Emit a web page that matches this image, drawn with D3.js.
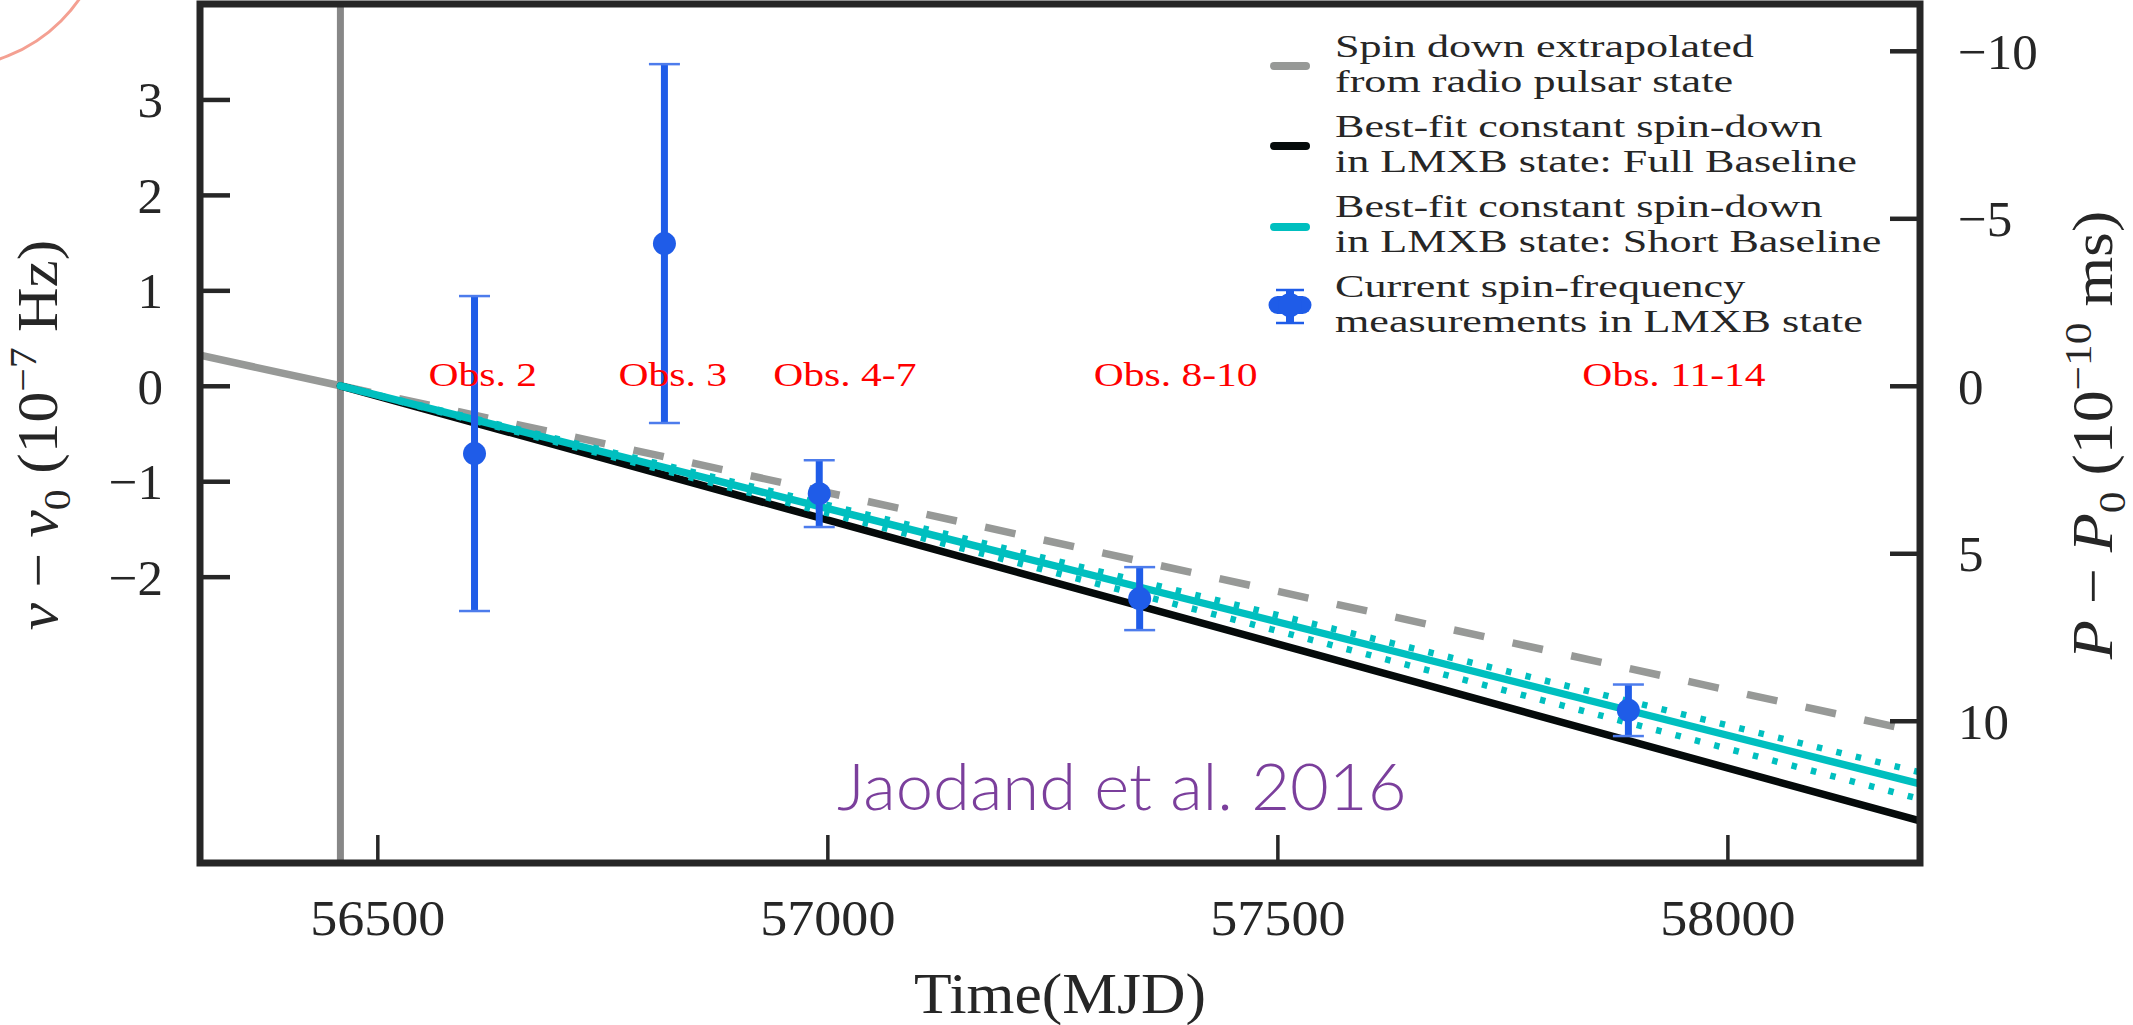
<!DOCTYPE html>
<html>
<head>
<meta charset="utf-8">
<script src="https://cdn.jsdelivr.net/npm/d3@7"></script>
<style>
  html, body { margin: 0; padding: 0; background: #ffffff; }
  svg { display: block; }
</style>
</head>
<body>
<svg id="chart" width="2133" height="1025"></svg>
<script>
// ---- data -------------------------------------------------------------
// Spin-frequency measurements in the LMXB state (nu - nu0 in 1e-7 Hz)
const obsLabels = ["Obs. 2", "Obs. 3", "Obs. 4-7", "Obs. 8-10", "Obs. 11-14"];
const obsMJD    = [56608, 56819, 56991, 57347, 57890];
const nuOffset  = [-0.71, 1.49, -1.13, -2.23, -3.40];
const nuError   = [1.65, 1.88, 0.35, 0.33, 0.27];

// Radio pulsar -> LMXB state transition
const transitionMJD = 56459;

// Spin-down tracks, [MJD, nu - nu0]
const radioPast     = [[56303, 0.32], [56459, 0]];
const radioExtrap   = [[56459, 0], [58214, -3.63]];
const fullBaseline  = [[56459, 0], [58214, -4.56]];
const shortBaseline = [[56459, 0], [58214, -4.17]];
const shortUpper    = [[56459, 0], [58214, -4.05]];
const shortLower    = [[56459, 0], [58214, -4.33]];

// Reference spin frequency (Hz), for the period axis
const nu0 = 592.42;

// Axis ticks
const xTicks = [56500, 57000, 57500, 58000];
const yTicks = [-2, -1, 0, 1, 2, 3];
const pTicks = [-10, -5, 0, 5, 10];

// Legend text
const legendText = [
  ["Spin down extrapolated", "from radio pulsar state"],
  ["Best-fit constant spin-down", "in LMXB state: Full Baseline"],
  ["Best-fit constant spin-down", "in LMXB state: Short Baseline"],
  ["Current spin-frequency", "measurements in LMXB state"]
];

// ---- layout -------------------------------------------------------------
const frame = { left: 200, right: 1920, top: 4, bottom: 863 };
const ink = "#262626";
const serif = "'Liberation Serif', 'Times New Roman', serif";
const blue = "#1f5ce8";
const cyan = "#00bfbf";
const grey = "#979997";

const svg = d3.select("#chart");

const x = d3.scaleLinear().domain([56303, 58214]).range([frame.left, frame.right]);
const y = d3.scaleLinear().domain([-5, 4]).range([frame.bottom, frame.top]);
// P - P0 in 1e-10 ms  =  -(nu - nu0) * 1e-7 / nu0^2 / 1e-13
const toPeriod = v => -v * 1e6 / (nu0 * nu0);
const yP = d3.scaleLinear().domain(y.domain().map(toPeriod)).range(y.range());

function stretch(sel, k) {
  sel.each(function () {
    const L = this.getComputedTextLength();
    this.setAttribute("textLength", L * k);
    this.setAttribute("lengthAdjust", "spacingAndGlyphs");
  });
}

// Decorative circle arc in the corner
svg.append("circle")
  .attr("cx", -50).attr("cy", -90).attr("r", 157)
  .attr("fill", "none").attr("stroke", "#f4a092").attr("stroke-width", 3);

// Clip for the plot area
svg.append("defs").append("clipPath").attr("id", "plotclip")
  .append("rect")
  .attr("x", frame.left).attr("y", frame.top)
  .attr("width", frame.right - frame.left).attr("height", frame.bottom - frame.top);

const plot = svg.append("g").attr("clip-path", "url(#plotclip)");
const line = d3.line().x(d => x(d[0])).y(d => y(d[1]));

// Transition marker
plot.append("line")
  .attr("x1", x(transitionMJD)).attr("x2", x(transitionMJD))
  .attr("y1", frame.top).attr("y2", frame.bottom)
  .attr("stroke", "#878787").attr("stroke-width", 7);

// Radio-state spin-down and its extrapolation
plot.append("path").datum(radioPast).attr("d", line)
  .attr("fill", "none").attr("stroke", grey).attr("stroke-width", 7.5);
plot.append("path").datum(radioExtrap).attr("d", line)
  .attr("fill", "none").attr("stroke", grey).attr("stroke-width", 7.5)
  .attr("stroke-dasharray", "31,29");

// LMXB best fits
plot.append("path").datum(fullBaseline).attr("d", line)
  .attr("fill", "none").attr("stroke", "#050a0a").attr("stroke-width", 7.5)
  .attr("stroke-linecap", "round");
plot.append("path").datum(shortBaseline).attr("d", line)
  .attr("fill", "none").attr("stroke", cyan).attr("stroke-width", 7.5)
  .attr("stroke-linecap", "round");
[shortUpper, shortLower].forEach(seg => {
  plot.append("path").datum(seg).attr("d", line)
    .attr("fill", "none").attr("stroke", cyan).attr("stroke-width", 6.5)
    .attr("stroke-dasharray", "5.5,14.5");
});

// Measurements with error bars
const obs = obsMJD.map((m, i) => ({ m, v: nuOffset[i], e: nuError[i], label: obsLabels[i] }));
const eb = plot.append("g").selectAll("g").data(obs).join("g");
eb.append("line")
  .attr("x1", d => x(d.m)).attr("x2", d => x(d.m))
  .attr("y1", d => y(d.v + d.e)).attr("y2", d => y(d.v - d.e))
  .attr("stroke", blue).attr("stroke-width", 7);
eb.selectAll("line.cap").data(d => [[d.m, d.v + d.e], [d.m, d.v - d.e]]).join("line")
  .attr("class", "cap")
  .attr("x1", d => x(d[0]) - 15.5).attr("x2", d => x(d[0]) + 15.5)
  .attr("y1", d => y(d[1])).attr("y2", d => y(d[1]))
  .attr("stroke", "#4d7cec").attr("stroke-width", 2.5);
eb.append("circle")
  .attr("cx", d => x(d.m)).attr("cy", d => y(d.v)).attr("r", 11.5)
  .attr("fill", blue);

// Observation labels
const obsText = svg.append("g").selectAll("text").data(obs).join("text")
  .attr("x", d => x(d.m) - 46).attr("y", y(0))
  .attr("font-family", serif).attr("font-size", 33).attr("fill", "#ff0000")
  .text(d => d.label);
stretch(obsText, 1.26);

// ---- axes -------------------------------------------------------------
function styleAxis(g, w) {
  g.select(".domain").remove();
  g.selectAll(".tick line").attr("stroke", ink).attr("stroke-width", w);
  g.selectAll(".tick text").attr("fill", ink)
    .attr("font-family", serif).attr("font-size", 51);
}

const gx = svg.append("g").attr("transform", `translate(0,${frame.bottom})`)
  .call(d3.axisBottom(x).tickValues(xTicks).tickFormat(d3.format("d"))
    .tickSizeInner(-28).tickSizeOuter(0));
styleAxis(gx, 3.5);
gx.selectAll(".tick text").attr("y", 72).attr("dy", 0);
stretch(gx.selectAll(".tick text"), 1.06);

const gy = svg.append("g").attr("transform", `translate(${frame.left},0)`)
  .call(d3.axisLeft(y).tickValues(yTicks).tickFormat(d3.format("d"))
    .tickSizeInner(-30).tickSizeOuter(0).tickPadding(37));
styleAxis(gy, 4.5);
gy.selectAll(".tick text").attr("dy", "0.34em");

const gp = svg.append("g").attr("transform", `translate(${frame.right},0)`)
  .call(d3.axisRight(yP).tickValues(pTicks).tickFormat(d3.format("d"))
    .tickSizeInner(-30).tickSizeOuter(0).tickPadding(38));
styleAxis(gp, 4.5);
gp.selectAll(".tick text").attr("dy", "0.34em");

// Frame
svg.append("rect")
  .attr("x", frame.left).attr("y", frame.top)
  .attr("width", frame.right - frame.left).attr("height", frame.bottom - frame.top)
  .attr("fill", "none").attr("stroke", ink).attr("stroke-width", 7);

// Axis titles
function richLabel(parent, parts, size) {
  const t = parent.append("text")
    .attr("font-family", serif).attr("font-size", size).attr("fill", ink)
    .attr("text-anchor", "middle");
  let shift = 0;
  parts.forEach(p => {
    const ts = t.append("tspan").text(p.t);
    let target = 0;
    if (p.sub) { ts.attr("font-size", size * 0.68); target = size * 0.22; }
    if (p.sup) { ts.attr("font-size", size * 0.68); target = -size * 0.36; }
    if (p.it) ts.attr("font-style", "italic");
    if (target !== shift) { ts.attr("dy", target - shift); shift = target; }
  });
  return t;
}

stretch(richLabel(svg.append("g").attr("transform", "translate(57,435) rotate(-90)"), [
  { t: "ν", it: true }, { t: " − " }, { t: "ν", it: true }, { t: "0", sub: true },
  { t: " (10" }, { t: "−7", sup: true }, { t: " Hz)" }
], 57), 1.08);

stretch(richLabel(svg.append("g").attr("transform", "translate(2112,435) rotate(-90)"), [
  { t: "P", it: true }, { t: " − " }, { t: "P", it: true }, { t: "0", sub: true },
  { t: " (10" }, { t: "−10", sup: true }, { t: " ms)" }
], 57), 1.12);

stretch(svg.append("text")
  .attr("x", (frame.left + frame.right) / 2).attr("y", 1013)
  .attr("text-anchor", "middle")
  .attr("font-family", serif).attr("font-size", 57).attr("fill", ink)
  .text("Time(MJD)"), 1.08);

// ---- legend -------------------------------------------------------------
const legend = svg.append("g");
const handleX = [1274, 1306];
const entryY = [66, 146, 227, 307];
const handleColor = [grey, "#050a0a", cyan];
handleColor.forEach((c, i) => {
  legend.append("line")
    .attr("x1", handleX[0]).attr("x2", handleX[1])
    .attr("y1", entryY[i]).attr("y2", entryY[i])
    .attr("stroke", c).attr("stroke-width", 8).attr("stroke-linecap", "round");
});
// error-bar handle
const mx = 1290, my = 305;
legend.append("line").attr("x1", mx).attr("x2", mx).attr("y1", my - 15).attr("y2", my + 18)
  .attr("stroke", blue).attr("stroke-width", 8);
[my - 15, my + 18].forEach(cy => legend.append("line")
  .attr("x1", mx - 14).attr("x2", mx + 14).attr("y1", cy).attr("y2", cy)
  .attr("stroke", blue).attr("stroke-width", 2.5));
legend.append("rect").attr("x", mx - 21.5).attr("y", my - 9).attr("width", 43).attr("height", 18)
  .attr("rx", 9).attr("fill", blue);
legend.append("circle").attr("cx", mx).attr("cy", my).attr("r", 12).attr("fill", blue);

const legendBase = [57, 137, 217, 297];
legendText.forEach((lines, i) => {
  lines.forEach((s, j) => {
    const t = legend.append("text")
      .attr("x", 1335).attr("y", legendBase[i] + j * 35)
      .attr("font-family", serif).attr("font-size", 31.5).attr("fill", ink)
      .text(s);
    stretch(t, 1.4);
  });
});

// Citation
stretch(svg.append("text")
  .attr("x", 837).attr("y", 810)
  .attr("font-family", "Lato, 'Open Sans', sans-serif").attr("font-weight", 300)
  .attr("font-size", 65).attr("fill", "#7b3f9c")
  .text("Jaodand et al. 2016"), 1.03);
</script>
</body>
</html>
